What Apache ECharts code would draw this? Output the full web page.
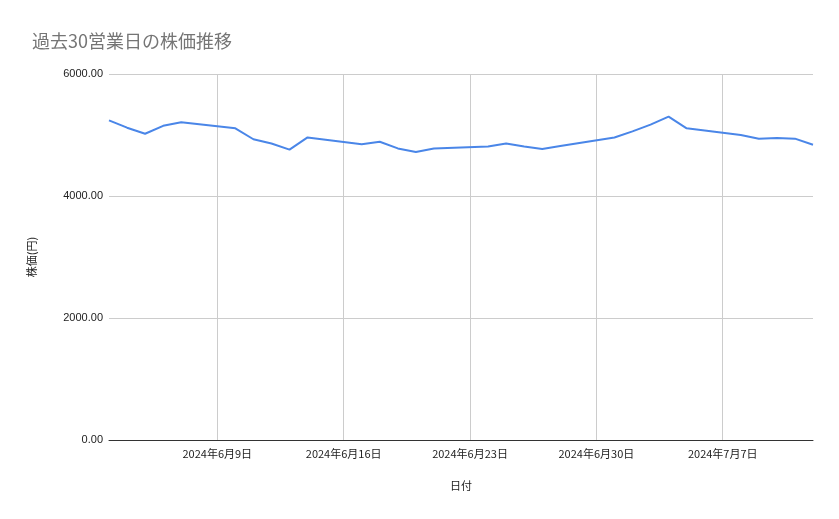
<!DOCTYPE html>
<html><head><meta charset="utf-8">
<script src="https://cdn.jsdelivr.net/npm/echarts@6/dist/echarts.min.js"></script>
<style>html,body{margin:0;padding:0;background:#fff}#c{width:839px;height:519px}</style>
</head><body><div id="c"></div>
<script>
// Business days and closing prices
const tradeDates = [
  "2024-06-03","2024-06-04","2024-06-05","2024-06-06","2024-06-07",
  "2024-06-10","2024-06-11","2024-06-12","2024-06-13","2024-06-14",
  "2024-06-17","2024-06-18","2024-06-19","2024-06-20","2024-06-21",
  "2024-06-24","2024-06-25","2024-06-26","2024-06-27","2024-06-28",
  "2024-07-01","2024-07-02","2024-07-03","2024-07-04","2024-07-05",
  "2024-07-08","2024-07-09","2024-07-10","2024-07-11","2024-07-12"];
const prices = [
  5240,5120,5020,5150,5210,
  5110,4930,4860,4760,4960,
  4850,4890,4780,4720,4780,
  4810,4860,4810,4770,4820,
  4960,5060,5170,5300,5110,
  5000,4940,4950,4940,4840];
const yTicks = [0,2000,4000,6000];

// build calendar days (so weekends keep spacing)
const days = [], vals = [];
const start = new Date(Date.UTC(2024,5,3)), end = new Date(Date.UTC(2024,6,12));
for (let d = new Date(start); d <= end; d.setUTCDate(d.getUTCDate()+1)) {
  const key = d.toISOString().slice(0,10);
  days.push(key);
  const i = tradeDates.indexOf(key);
  vals.push(i >= 0 ? prices[i] : null);
}
const isSunday = (idx) => new Date(days[idx]+"T00:00:00Z").getUTCDay() === 0;
const fmt = (k) => { const p = k.split('-'); return p[0]+'年'+(+p[1])+'月'+(+p[2])+'日'; };

const chart = echarts.init(document.getElementById('c'));
chart.setOption({
  animation:false,
  title:{text:'過去30営業日の株価推移',left:27,top:27,textStyle:{color:'#757575',fontSize:18,fontWeight:'normal',fontFamily:'Noto Sans CJK JP'}},
  grid:{left:109,right:26,top:74,bottom:79},
  xAxis:{type:'category',data:days,boundaryGap:false,
    name:'日付',nameLocation:'middle',nameGap:40,nameTextStyle:{color:'#222',fontSize:11,fontFamily:'Noto Sans CJK JP'},
    axisLine:{lineStyle:{color:'#333'}},axisTick:{show:false},
    axisLabel:{interval:(i)=>isSunday(i),formatter:(v)=>fmt(v),color:'#222',fontSize:11,fontFamily:'Noto Sans CJK JP',margin:8},
    splitLine:{show:true,interval:(i)=>isSunday(i),lineStyle:{color:'#cccccc'}}},
  yAxis:{type:'value',min:yTicks[0],max:yTicks[yTicks.length-1],interval:2000,
    name:'株価(円)',nameLocation:'middle',nameGap:72,nameRotate:90,nameTextStyle:{color:'#222',fontSize:11,fontFamily:'Noto Sans CJK JP'},
    axisLine:{show:false},axisTick:{show:false},
    axisLabel:{formatter:(v)=>v.toFixed(2),color:'#222',fontSize:11,margin:6},
    splitLine:{lineStyle:{color:'#cccccc'}}},
  series:[{type:'line',data:vals,connectNulls:true,showSymbol:false,
    lineStyle:{color:'#4a86e8',width:2},itemStyle:{color:'#4a86e8'}}]
});
</script></body></html>
